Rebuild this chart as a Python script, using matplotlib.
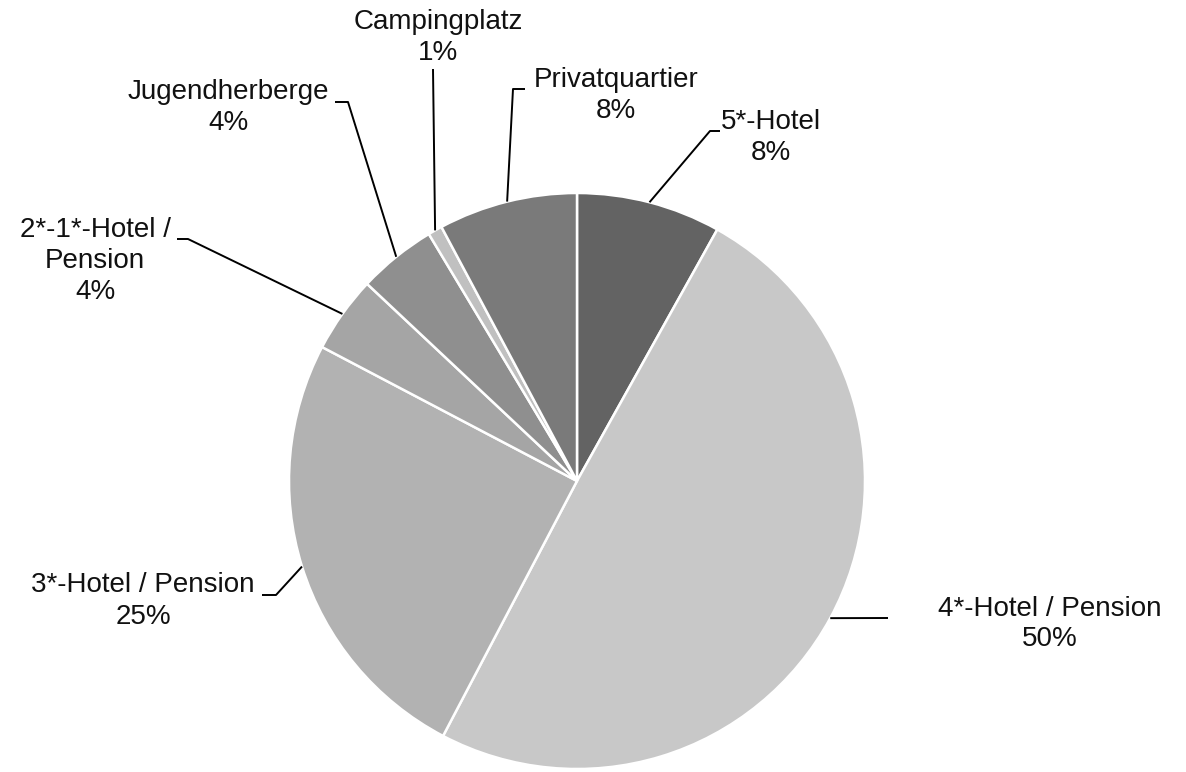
import numpy as np
import matplotlib
matplotlib.use("Agg")
from matplotlib import pyplot as plt

plt.rcParams['font.family'] = ['Liberation Sans', 'DejaVu Sans']

# data, clockwise from 12 o'clock
categories = ['5*-Hotel', '4*-Hotel / Pension', '3*-Hotel / Pension',
              '2*-1*-Hotel /\nPension', 'Jugendherberge', 'Campingplatz',
              'Privatquartier']
shares = [8.1, 49.6, 25.0, 4.3, 4.4, 0.8, 7.8]
shown_pct = [8, 50, 25, 4, 4, 1, 8]
colors = ['#636363', '#c8c8c8', '#b2b2b2', '#a5a5a5', '#8f8f8f',
          '#c0c0c0', '#7a7a7a']

# layout in pixels of the 1186x772 picture (pie center 577,481, radius 288)
CX, CY, R = 577, 481, 288


def px(x, y):
    return (x - CX) / R, (CY - y) / R


label_pos = [(771, 138), (1050, 624), (143, 601), (95, 261),
             (228, 108), (438, 38), (616, 96)]
leader_pts = [[(710, 131), (720, 131)],
              [(888, 618)],
              [(276, 595), (262, 595)],
              [(188, 239), (177, 239)],
              [(348, 102), (335, 102)],
              [(433, 69)],
              [(513, 89), (525, 89)]]

fig = plt.figure(figsize=(11.86, 7.72), dpi=100)
ax = fig.add_axes([0, 0, 1, 1])
wedges, _ = ax.pie(shares, colors=colors, startangle=90, counterclock=False,
                   radius=1, center=(0, 0),
                   wedgeprops=dict(edgecolor='white', linewidth=1.8))

for w, lab, pct, pos, pts in zip(wedges, categories, shown_pct, label_pos, leader_pts):
    mid = np.deg2rad((w.theta1 + w.theta2) / 2)
    xs = [np.cos(mid)] + [px(*p)[0] for p in pts]
    ys = [np.sin(mid)] + [px(*p)[1] for p in pts]
    ax.plot(xs, ys, color='black', lw=1.4, solid_capstyle='butt')
    tx, ty = px(*pos)
    ax.text(tx, ty, f'{lab}\n{pct}%', ha='center', va='center',
            fontsize=20, color='#111111', linespacing=1.25)

x0, _ = px(0, 0)
x1, _ = px(1186, 0)
_, y0 = px(0, 772)
_, y1 = px(0, 0)
ax.set_xlim(x0, x1)
ax.set_ylim(y0, y1)
ax.set_aspect('equal')
ax.axis('off')
fig.savefig('out.png', dpi=100, facecolor='white')
